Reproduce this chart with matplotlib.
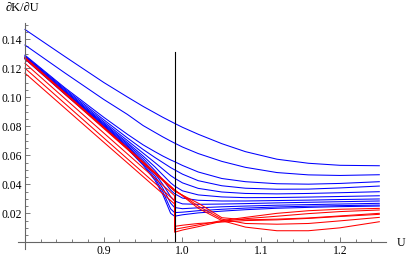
import numpy as np
import matplotlib.pyplot as plt

u_blue = [0.80, 0.85, 0.90, 0.93, 0.95, 0.965, 0.975, 0.985, 0.99, 1.00, 1.02, 1.05, 1.08, 1.12, 1.16, 1.20, 1.25]
# red curves jump at U = 0.99, so that point is listed twice
u_red = [0.80, 0.85, 0.90, 0.93, 0.95, 0.965, 0.975, 0.985, 0.99, 0.99, 1.00, 1.02, 1.05, 1.08, 1.12, 1.16, 1.20, 1.25]

blue_1 = [0.1467, 0.1283, 0.1102, 0.1002, 0.0937, 0.0892, 0.0862, 0.0834, 0.0820, 0.0793, 0.0745, 0.0680, 0.0625, 0.0573, 0.0545, 0.0531, 0.0528]
blue_2 = [0.1360, 0.1170, 0.0985, 0.0882, 0.0805, 0.0758, 0.0727, 0.0698, 0.0684, 0.0657, 0.0612, 0.0558, 0.0517, 0.0481, 0.0465, 0.0461, 0.0466]
blue_3 = [0.1290, 0.1068, 0.0862, 0.0745, 0.0672, 0.0625, 0.0595, 0.0568, 0.0556, 0.0530, 0.0485, 0.0440, 0.0418, 0.0404, 0.0401, 0.0406, 0.0418]
blue_4 = [0.1285, 0.1060, 0.0845, 0.0720, 0.0640, 0.0585, 0.0550, 0.0515, 0.0500, 0.0470, 0.0425, 0.0390, 0.0373, 0.0366, 0.0367, 0.0375, 0.0388]
blue_5 = [0.1280, 0.1052, 0.0832, 0.0702, 0.0615, 0.0550, 0.0505, 0.0460, 0.0442, 0.0410, 0.0372, 0.0347, 0.0337, 0.0334, 0.0337, 0.0342, 0.0349]
blue_6 = [0.1275, 0.1045, 0.0822, 0.0688, 0.0595, 0.0520, 0.0465, 0.0410, 0.0388, 0.0355, 0.0327, 0.0313, 0.0308, 0.0309, 0.0312, 0.0316, 0.0321]
blue_7 = [0.1272, 0.1040, 0.0815, 0.0678, 0.0580, 0.0495, 0.0430, 0.0360, 0.0335, 0.0305, 0.0290, 0.0285, 0.0285, 0.0288, 0.0291, 0.0295, 0.0299]
blue_8 = [0.1270, 0.1036, 0.0808, 0.0668, 0.0565, 0.0475, 0.0400, 0.0315, 0.0285, 0.0265, 0.0262, 0.0264, 0.0267, 0.0272, 0.0276, 0.0280, 0.0285]
blue_9 = [0.1268, 0.1032, 0.0802, 0.0660, 0.0553, 0.0458, 0.0373, 0.0270, 0.0240, 0.0232, 0.0238, 0.0245, 0.0250, 0.0256, 0.0260, 0.0264, 0.0269]
blue_10 = [0.1266, 0.1028, 0.0797, 0.0652, 0.0542, 0.0442, 0.0350, 0.0230, 0.0205, 0.0208, 0.0218, 0.0228, 0.0236, 0.0244, 0.0249, 0.0253, 0.0257]
blue_11 = [0.1264, 0.1024, 0.0792, 0.0645, 0.0532, 0.0428, 0.0330, 0.0200, 0.0180, 0.0190, 0.0203, 0.0215, 0.0225, 0.0235, 0.0241, 0.0246, 0.0250]

red_1 = [0.1275, 0.1035, 0.0795, 0.0651, 0.0555, 0.0483, 0.0435, 0.0387, 0.0363, 0.0363, 0.0320, 0.0235, 0.0150, 0.0105, 0.0080, 0.0080, 0.0100, 0.0142]
red_2 = [0.1265, 0.1025, 0.0785, 0.0641, 0.0545, 0.0473, 0.0425, 0.0377, 0.0353, 0.0353, 0.0325, 0.0270, 0.0170, 0.0155, 0.0160, 0.0168, 0.0182, 0.0200]
red_3 = [0.1234, 0.0994, 0.0754, 0.0610, 0.0514, 0.0442, 0.0394, 0.0346, 0.0322, 0.0090, 0.0100, 0.0120, 0.0150, 0.0172, 0.0200, 0.0218, 0.0228, 0.0234]
red_4 = [0.1200, 0.0960, 0.0720, 0.0576, 0.0480, 0.0408, 0.0360, 0.0312, 0.0288, 0.0070, 0.0085, 0.0108, 0.0145, 0.0163, 0.0180, 0.0198, 0.0212, 0.0223]
red_5 = [0.1166, 0.0928, 0.0690, 0.0548, 0.0453, 0.0382, 0.0335, 0.0288, 0.0264, 0.0110, 0.0118, 0.0130, 0.0140, 0.0150, 0.0155, 0.0165, 0.0178, 0.0193]
red_6 = [0.1270, 0.1030, 0.0790, 0.0646, 0.0550, 0.0478, 0.0430, 0.0382, 0.0358, 0.0358, 0.0325, 0.0250, 0.0160, 0.0130, 0.0125, 0.0130, 0.0148, 0.0172]

blue_curves = [blue_1, blue_2, blue_3, blue_4, blue_5, blue_6, blue_7, blue_8, blue_9, blue_10, blue_11]
red_curves = [red_1, red_2, red_3, red_4, red_5, red_6]

# critical U (vertical black line)
crit_u = 0.99
crit_top = 0.131

x_major = [0.9, 1.0, 1.1, 1.2]
x_labels = ['0.9', '1.0', '1.1', '1.2']
y_major = [0.02, 0.04, 0.06, 0.08, 0.10, 0.12, 0.14]
y_labels = ['0.02', '0.04', '0.06', '0.08', '0.10', '0.12', '0.14']

plt.rcParams['font.family'] = ['Liberation Serif', 'DejaVu Serif']
plt.rcParams['font.size'] = 8.4

fig = plt.figure(figsize=(4.07, 2.61), dpi=100)
ax = fig.add_axes([0.0442, 0.0448, 0.9042, 0.8672])

for c in blue_curves:
    ax.plot(u_blue, c, color='blue', lw=0.75)
for c in red_curves:
    ax.plot(u_red, c, color='red', lw=0.75)

ax.plot([crit_u, crit_u], [0, crit_top], color='black', lw=0.8)

ax.set_xlim(0.7911, 1.2585)
ax.set_ylim(-0.0048, 0.1512)

# mathematica-like axes crossing at (0.8, 0)
for s in ['top', 'right']:
    ax.spines[s].set_visible(False)
ax.spines['left'].set_position(('data', 0.8))
ax.spines['bottom'].set_position(('data', 0.0))
for s in ['left', 'bottom']:
    ax.spines[s].set_color('#666666')
    ax.spines[s].set_linewidth(0.8)

ax.set_xticks(x_major)
ax.set_xticklabels(x_labels)
ax.set_xticks(np.arange(0.82, 1.25, 0.02), minor=True)
ax.set_yticks(y_major)
ax.set_yticklabels(y_labels)
ax.set_yticks(np.arange(0.005, 0.151, 0.005), minor=True)
ax.tick_params(which='both', direction='in', color='#666666', width=0.6)
ax.tick_params(which='major', length=3.4, pad=2.0)
ax.tick_params(which='minor', length=1.9)

fig.text(6 / 407, 1 - 8 / 261, '\u2202K/\u2202U', ha='left', va='center', fontsize=9)
fig.text(397 / 407, 1 - 243 / 261, 'U', ha='left', va='center', fontsize=8.6)

fig.savefig('out.png', dpi=100)
